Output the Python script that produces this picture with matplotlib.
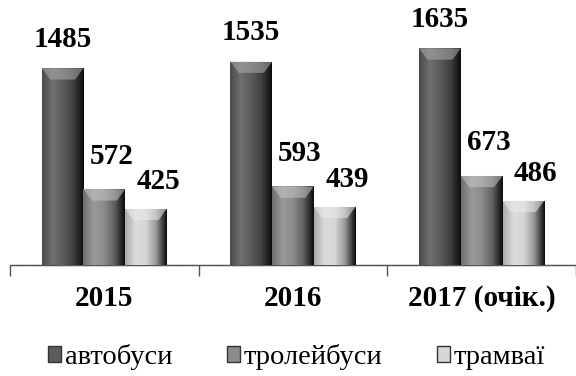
import numpy as np
import matplotlib
matplotlib.use("Agg")
import matplotlib.pyplot as plt
from matplotlib.colors import LinearSegmentedColormap
from matplotlib.patches import Polygon

years = ["2015", "2016", "2017 (очік.)"]
series_names = ["автобуси", "тролейбуси", "трамваї"]
buses = [1485, 1535, 1635]
trolleybuses = [572, 593, 673]
trams = [425, 439, 486]

values = [buses, trolleybuses, trams]
base_colors = ["#5c5c5c", "#8c8c8c", "#d6d6d6"]
label_dx = [0, 5, 9]       # label offsets (pt) per series
label_gap = [11, 14, 10]

plt.rcParams["font.family"] = ["Liberation Serif", "DejaVu Serif"]

fig = plt.figure(figsize=(5.76, 3.76), dpi=100)
ax = fig.add_axes([10 / 576, 0.295, 566 / 576, 0.705])
ax.set_xlim(-0.5, 2.479)
ax.set_ylim(0, 2000)

x = np.arange(len(years))
width = 0.221


def shade(c, f):
    rgb = np.array(matplotlib.colors.to_rgb(c))
    if f >= 0:
        return tuple(rgb + (1 - rgb) * f)
    return tuple(rgb * (1 + f))


for i, (vals, col) in enumerate(zip(values, base_colors)):
    pos = x + (i - 1) * width
    bars = ax.bar(pos, vals, width, color=col, edgecolor="none", zorder=2,
                  label=series_names[i])
    cmap = LinearSegmentedColormap.from_list(
        f"g{i}", [shade(col, -0.2), shade(col, 0.12), col, shade(col, -0.3), (0.05, 0.05, 0.05)])
    grad = np.linspace(0, 1, 64).reshape(1, -1)
    for b, v in zip(bars, vals):
        x0, w, h = b.get_x(), b.get_width(), b.get_height()
        im = ax.imshow(grad, cmap=cmap, extent=(x0, x0 + w, 0, h),
                       aspect="auto", zorder=3, interpolation="bilinear")
        im.set_clip_path(b)
        # bevel on top of each bar
        bev = 0.2 * w
        bh = 85
        top = Polygon([(x0, h), (x0 + w, h), (x0 + w - bev, h - bh), (x0 + bev, h - bh)],
                      closed=True, facecolor=shade(col, 0.5), edgecolor="none",
                      alpha=0.55, zorder=4)
        ax.add_patch(top)
        ax.annotate(str(v), (x0 + w / 2, h), xytext=(label_dx[i], label_gap[i]),
                    textcoords="offset points", ha="center", va="bottom",
                    fontsize=21, fontweight="bold", color="black", zorder=5)

for s in ["top", "left", "right"]:
    ax.spines[s].set_visible(False)
ax.spines["bottom"].set_color("#555555")
ax.spines["bottom"].set_linewidth(1.0)
ax.spines["bottom"].set_linestyle((0, (1, 0.6)))

ax.set_yticks([])
ax.set_xticks([-0.5, 0.5, 1.5, 2.5])
ax.set_xticklabels([])
ax.set_xticks(x, minor=True)
ax.set_xticklabels(years, minor=True, fontsize=21, fontweight="bold")
ax.tick_params(axis="x", which="major", length=8, color="#555555", width=1)
ax.tick_params(axis="x", which="minor", length=0, pad=14)

handles, labels = ax.get_legend_handles_labels()
leg = fig.legend(handles, labels, loc="center", bbox_to_anchor=(0.515, 0.05),
                 ncol=3, frameon=False, fontsize=20.5, handlelength=0.45,
                 handleheight=0.45, handletextpad=0.15, columnspacing=1.9)
for h in leg.legend_handles:
    h.set_edgecolor("#333333")

fig.savefig("out.png", dpi=100)
